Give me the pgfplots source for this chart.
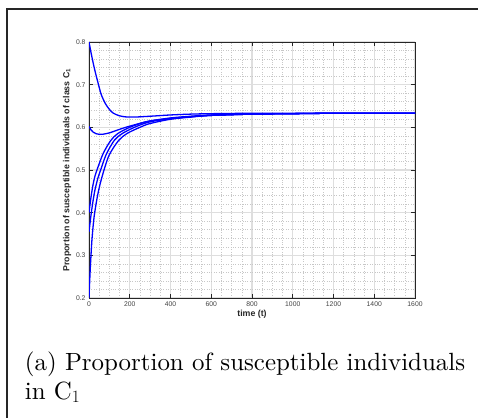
\documentclass[border=0pt]{standalone}
\usepackage{fontspec}
\usepackage{pgfplots}
\pgfplotsset{compat=1.18}
\newfontfamily\arial{Liberation Sans}
\newfontfamily\capfont{lmroman10-regular.otf}
\definecolor{axgray}{RGB}{38,38,38}
\begin{document}
\begin{tikzpicture}
\useasboundingbox (0,0) rectangle (478pt,-417pt);
\draw[line width=1.2pt, black!85] (7pt,-420pt) -- (7pt,-9pt) -- (480pt,-9pt);
\begin{axis}[
  at={(89pt,-298pt)}, anchor=south west,
  scale only axis, width=326pt, height=256pt,
  xmin=0, xmax=1600, ymin=0.2, ymax=0.8,
  xtick={0,200,...,1600},
  ytick={0.2,0.3,0.4,0.5,0.6,0.7,0.8},
  minor x tick num=3, minor y tick num=4,
  grid=both,
  major grid style={line width=1.2pt, black!13},
  minor grid style={line width=0.5pt, dash pattern=on 0.8pt off 1.6pt, black!22},
  axis line style={line width=0.9pt, axgray},
  tick style={line width=0.7pt, axgray},
  major tick length=4pt, minor tick length=0pt,
  tick align=inside,
  cycle list={{blue}},
  /pgf/number format/assume math mode=true,
  /pgf/number format/set thousands separator={},
  yticklabel style={/pgf/number format/fixed, /pgf/number format/precision=1, /pgf/number format/fixed zerofill},
  ticklabel style={font=\arial\fontsize{6.8}{8}\selectfont, text=black!75},
  xlabel={time (t)},
  ylabel={Proportion of susceptible individuals of class C\textsubscript{1}},
  xlabel style={font=\arial\bfseries\fontsize{8.8}{10}\selectfont, text=black!85, yshift=3pt},
  ylabel style={font=\arial\bfseries\fontsize{8.8}{10}\selectfont, text=black!85, yshift=-2pt},
]
% starts at 0.8
\addplot[blue, line width=1.3pt, smooth, no marks] coordinates {(0,0.800) (10,0.775) (20,0.752) (30,0.731) (45,0.703) (60,0.677) (80,0.656) (100,0.642) (120,0.633) (150,0.627) (180,0.6245) (220,0.624) (300,0.626) (400,0.629) (500,0.631) (600,0.632) (800,0.633) (1000,0.633) (1600,0.633)};
% starts at 0.6
\addplot[blue, line width=1.3pt, smooth, no marks] coordinates {(0,0.602) (10,0.594) (20,0.589) (35,0.585) (52,0.5835) (70,0.584) (100,0.587) (142,0.594) (180,0.600) (240,0.608) (300,0.615) (400,0.621) (500,0.625) (600,0.628) (800,0.631) (1000,0.632) (1200,0.633) (1600,0.633)};
% starts at 0.4
\addplot[blue, line width=1.3pt, smooth, no marks] coordinates {(0,0.400) (10,0.437) (20,0.466) (30,0.487) (45,0.508) (70,0.539) (105,0.568) (140,0.585) (200,0.600) (280,0.613) (400,0.622) (500,0.626) (600,0.629) (800,0.631) (1000,0.632) (1200,0.633) (1600,0.633)};
% starts at 0.355
\addplot[blue, line width=1.3pt, smooth, no marks] coordinates {(0,0.355) (10,0.395) (20,0.428) (30,0.455) (45,0.483) (60,0.504) (85,0.537) (125,0.570) (165,0.586) (230,0.6015) (300,0.613) (400,0.620) (500,0.625) (600,0.628) (800,0.631) (1000,0.632) (1200,0.633) (1600,0.633)};
% starts at 0.2
\addplot[blue, line width=1.3pt, smooth, no marks] coordinates {(0,0.200) (5,0.257) (10,0.302) (15,0.340) (25,0.390) (40,0.435) (55,0.468) (75,0.502) (100,0.536) (145,0.569) (188,0.586) (257,0.6015) (300,0.609) (400,0.619) (500,0.624) (600,0.628) (800,0.631) (1000,0.632) (1200,0.633) (1600,0.633)};
\end{axis}
\node[anchor=base west, inner sep=0pt, font=\capfont\fontsize{24.9}{29}\selectfont] at (24.7pt,-370pt) {(a) Proportion of susceptible individuals};
\node[anchor=base west, inner sep=0pt, font=\capfont\fontsize{24.9}{29}\selectfont] at (24.7pt,-399pt) {in C$_1$};
\end{tikzpicture}
\end{document}
